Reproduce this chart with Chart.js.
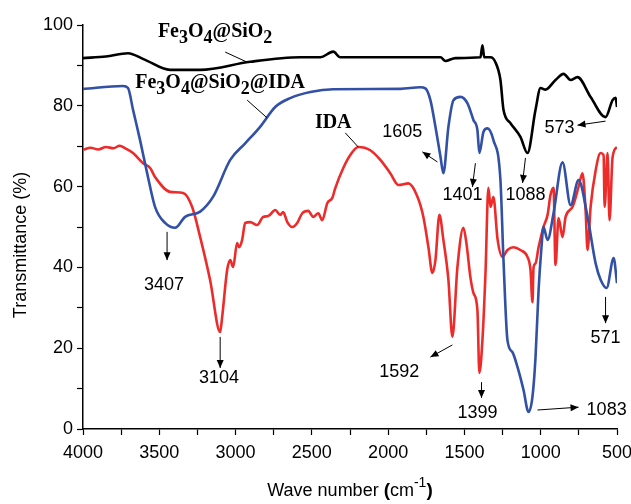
<!DOCTYPE html>
<html>
<head>
<meta charset="utf-8">
<script src="https://cdn.jsdelivr.net/npm/chart.js@4.4.1/dist/chart.umd.min.js"></script>
<style>
  html, body { margin: 0; padding: 0; background: #fff; }
  #wrap { width: 631px; height: 504px; position: relative; }
</style>
</head>
<body>
<div id="wrap"><canvas id="ftirChart"></canvas></div>
<script>
'use strict';

// wavenumbers (cm-1) and transmittance (%)
let silicaWave = [4000, 3850, 3705, 3600, 3429, 3232, 2904, 2576, 2445, 2360, 2314, 1920, 1657, 1625, 1559, 1395, 1382, 1370, 1329, 1297, 1264, 1244, 1198, 1133, 1087, 1034, 1001, 969, 903, 850, 804, 759, 673, 575, 529, 509, 500];
let silicaT = [91.8, 92.2, 93.0, 91.5, 88.9, 88.9, 90.9, 92.0, 92.0, 93.4, 92.0, 92.0, 92.0, 91.1, 91.8, 92.0, 95.0, 92.0, 92.0, 90.8, 86.4, 79.0, 75.7, 72.3, 68.3, 79.0, 84.4, 84.0, 86.4, 87.9, 86.4, 87.1, 82.2, 77.2, 81.4, 82.0, 79.7];

let idaSilicaWave = [4000, 3738, 3705, 3672, 3626, 3580, 3528, 3462, 3396, 3331, 3232, 3147, 3035, 2937, 2839, 2740, 2642, 2510, 2360, 1920, 1789, 1756, 1723, 1690, 1657, 1638, 1605, 1572, 1526, 1480, 1441, 1415, 1402, 1375, 1349, 1310, 1264, 1244, 1218, 1185, 1152, 1113, 1080, 1054, 1034, 1014, 995, 982, 955, 916, 857, 804, 752, 693, 640, 608, 568, 522, 500];
let idaSilicaT = [84.2, 84.9, 84.4, 79.0, 71.5, 63.4, 55.0, 51.0, 49.8, 52.5, 53.8, 57.5, 66.6, 70.7, 74.8, 79.7, 81.9, 83.4, 84.1, 84.2, 84.6, 84.3, 81.4, 74.8, 67.4, 63.3, 74.8, 81.4, 82.2, 80.6, 76.5, 74.0, 68.3, 73.6, 74.4, 71.5, 61.6, 41.8, 22.0, 19.0, 15.3, 9.7, 4.2, 8.0, 17.8, 34.4, 45.0, 50.0, 46.8, 53.4, 66.0, 55.4, 61.6, 52.5, 41.0, 37.0, 34.9, 42.3, 36.1];

let idaWave = [4000, 3950, 3900, 3850, 3800, 3760, 3720, 3672, 3606, 3560, 3528, 3429, 3344, 3285, 3232, 3167, 3101, 3088, 3055, 3035, 3016, 2990, 2976, 2957, 2937, 2904, 2858, 2819, 2786, 2740, 2707, 2688, 2661, 2629, 2596, 2563, 2524, 2491, 2458, 2432, 2399, 2366, 2346, 2294, 2248, 2196, 2117, 2051, 1986, 1933, 1867, 1808, 1769, 1736, 1710, 1690, 1664, 1638, 1605, 1579, 1546, 1507, 1487, 1461, 1441, 1415, 1402, 1382, 1362, 1343, 1329, 1310, 1283, 1251, 1218, 1178, 1133, 1087, 1067, 1054, 1047, 1034, 1014, 982, 955, 936, 916, 903, 883, 857, 837, 791, 752, 726, 706, 693, 673, 640, 608, 588, 581, 562, 549, 529, 500];
let idaT = [69.1, 69.6, 69.2, 69.8, 69.5, 70.1, 69.4, 68.3, 65.8, 64.6, 62.4, 58.7, 58.4, 55.0, 47.5, 36.9, 24.0, 27.7, 39.4, 41.8, 40.1, 46.0, 45.0, 46.8, 51.0, 51.2, 50.5, 52.5, 52.7, 54.2, 53.0, 53.7, 51.2, 50.0, 51.0, 53.4, 54.0, 52.5, 53.4, 51.7, 55.9, 57.2, 59.7, 64.6, 67.8, 69.8, 69.0, 66.6, 63.3, 60.4, 60.8, 57.5, 52.5, 45.0, 38.6, 41.8, 53.0, 46.8, 36.9, 22.8, 40.0, 49.8, 46.0, 37.6, 33.7, 29.5, 13.9, 22.0, 38.6, 59.7, 55.0, 57.4, 47.0, 42.6, 44.3, 45.0, 44.3, 42.6, 39.4, 31.4, 40.0, 41.0, 45.0, 50.0, 53.0, 57.9, 59.7, 40.6, 52.2, 47.5, 52.5, 55.0, 59.9, 63.3, 54.2, 44.3, 55.0, 64.0, 68.3, 67.8, 55.0, 68.3, 51.7, 67.3, 69.8];

let seriesNames = ['Fe3O4@SiO2', 'Fe3O4@SiO2@IDA', 'IDA'];
let seriesColors = ['#000000', '#3150a6', '#ee2b2b'];

let xTicks = [4000, 3500, 3000, 2500, 2000, 1500, 1000, 500];
let yTicks = [0, 20, 40, 60, 80, 100];

// peak labels: text, label position, arrow tail, arrow head (data units)
let peakLabels = [
  { text: '3407', at: [3469, 34.4], from: [3449, 48.8], to: [3449, 41.8] },
  { text: '3104', at: [3108, 11.4], from: [3101, 22.8], to: [3101, 15.1] },
  { text: '1605', at: [1907, 72.3], from: [1677, 66.1], to: [1776, 68.6] },
  { text: '1401', at: [1513, 56.7], from: [1428, 65.8], to: [1448, 59.9] },
  { text: '1088', at: [1100, 56.7], from: [1100, 67.1], to: [1119, 60.9] },
  { text: '573', at: [877, 73.3], from: [575, 76.2], to: [759, 75.2] },
  { text: '1592', at: [1927, 12.9], from: [1579, 20.8], to: [1723, 17.8] },
  { text: '1399', at: [1415, 2.7], from: [1388, 11.6], to: [1388, 7.7] },
  { text: '1083', at: [568, 3.5], from: [1021, 4.7], to: [752, 5.4] },
  { text: '571', at: [575, 21.3], from: [575, 32.7], to: [575, 26.2] }
];

// series name labels with leader lines
let nameLabels = [
  { parts: [['Fe', 0], ['3', 1], ['O', 0], ['4', 1], ['@SiO', 0], ['2', 1]], at: [3134, 97.0], from: [3068, 93.3], to: [2924, 90.8] },
  { parts: [['Fe', 0], ['3', 1], ['O', 0], ['4', 1], ['@SiO', 0], ['2', 1], ['@IDA', 0]], at: [3101, 84.4], from: [2924, 81.4], to: [2793, 77.0] },
  { parts: [['IDA', 0]], at: [2360, 74.5], from: [2281, 73.3], to: [2196, 69.8] }
];

function toPoints(xs, ys) {
  let pts = [];
  for (let i = 0; i < xs.length; i++) {
    pts.push({ x: xs[i], y: ys[i] });
  }
  return pts;
}

const sansFont = '"Liberation Sans", Arial, sans-serif';
const serifFont = '"Liberation Serif", "Times New Roman", serif';

function drawArrow(ctx, x0, y0, x1, y1, head) {
  ctx.beginPath();
  ctx.moveTo(x0, y0);
  ctx.lineTo(x1, y1);
  ctx.stroke();
  if (!head) return;
  let ang = Math.atan2(y1 - y0, x1 - x0);
  let len = 8, half = 3.5;
  ctx.beginPath();
  ctx.moveTo(x1, y1);
  ctx.lineTo(x1 - len * Math.cos(ang) + half * Math.sin(ang), y1 - len * Math.sin(ang) - half * Math.cos(ang));
  ctx.lineTo(x1 - len * Math.cos(ang) - half * Math.sin(ang), y1 - len * Math.sin(ang) + half * Math.cos(ang));
  ctx.closePath();
  ctx.fill();
}

const annotatePlugin = {
  id: 'annotate',
  afterDraw(chart) {
    const ctx = chart.ctx;
    const xs = chart.scales.x, ys = chart.scales.y;
    const px = v => xs.getPixelForValue(v);
    const py = v => ys.getPixelForValue(v);
    ctx.save();
    ctx.fillStyle = '#000';
    ctx.strokeStyle = '#000';
    ctx.lineWidth = 1;

    // peak labels
    ctx.font = '18px ' + sansFont;
    ctx.textAlign = 'center';
    ctx.textBaseline = 'alphabetic';
    peakLabels.forEach(p => {
      ctx.fillText(p.text, px(p.at[0]), py(p.at[1]));
      drawArrow(ctx, px(p.from[0]), py(p.from[1]), px(p.to[0]), py(p.to[1]), true);
    });

    // series names
    ctx.textAlign = 'left';
    nameLabels.forEach(n => {
      let w = 0;
      n.parts.forEach(part => {
        ctx.font = 'bold ' + (part[1] ? 18 : 20) + 'px ' + serifFont;
        w += ctx.measureText(part[0]).width;
      });
      let x = px(n.at[0]) - w / 2, y = py(n.at[1]);
      n.parts.forEach(part => {
        ctx.font = 'bold ' + (part[1] ? 18 : 20) + 'px ' + serifFont;
        ctx.fillText(part[0], x, part[1] ? y + 6 : y);
        x += ctx.measureText(part[0]).width;
      });
      drawArrow(ctx, px(n.from[0]), py(n.from[1]), px(n.to[0]), py(n.to[1]), false);
    });

    // axis titles
    const area = chart.chartArea;
    ctx.save();
    ctx.translate(20, (area.top + area.bottom) / 2 + 18);
    ctx.rotate(-Math.PI / 2);
    ctx.textAlign = 'center';
    ctx.font = '18px ' + sansFont;
    ctx.fillText('Transmittance (%)', 0, 6);
    ctx.restore();

    let xParts = [['Wave number ', '18px ', 0], ['(', 'bold 19px ', 0], ['cm', '18px ', 0], ['-1', '14px ', -9], [')', 'bold 19px ', 0]];
    let total = 0;
    xParts.forEach(p => { ctx.font = p[1] + sansFont; total += ctx.measureText(p[0]).width; });
    let tx = (area.left + area.right) / 2 - total / 2;
    let ty = 496;
    ctx.textAlign = 'left';
    xParts.forEach(p => {
      ctx.font = p[1] + sansFont;
      ctx.fillText(p[0], tx, ty + p[2]);
      tx += ctx.measureText(p[0]).width;
    });
    ctx.restore();
  }
};

const ctx = document.getElementById('ftirChart').getContext('2d');
let ftirChart = new Chart(ctx, {
  type: 'line',
  data: {
    datasets: [
      { label: seriesNames[0], data: toPoints(silicaWave, silicaT), borderColor: seriesColors[0] },
      { label: seriesNames[1], data: toPoints(idaSilicaWave, idaSilicaT), borderColor: seriesColors[1] },
      { label: seriesNames[2], data: toPoints(idaWave, idaT), borderColor: seriesColors[2] }
    ]
  },
  options: {
    responsive: true,
    maintainAspectRatio: false,
    animation: false,
    layout: { padding: { left: 0, right: 0, top: 25, bottom: 0 } },
    elements: {
      line: { borderWidth: 2.6, cubicInterpolationMode: 'monotone', fill: false },
      point: { radius: 0 }
    },
    plugins: {
      legend: { display: false },
      tooltip: { enabled: false }
    },
    scales: {
      x: {
        type: 'linear',
        reverse: true,
        min: 500,
        max: 4000,
        afterFit: scale => { scale.height = 75; scale.paddingRight = 14; },
        ticks: {
          stepSize: 250,
          autoSkip: false,
          maxRotation: 0,
          padding: 7,
          color: '#000',
          font: { family: sansFont, size: 18 },
          callback: v => xTicks.includes(v) ? String(v) : ''
        },
        grid: { drawOnChartArea: false, tickLength: 6, color: '#000', tickWidth: 1.2 },
        border: { display: true, color: '#000', width: 1.5 }
      },
      y: {
        min: 0,
        max: 100,
        afterFit: scale => { scale.width = 83; },
        ticks: {
          stepSize: 10,
          autoSkip: false,
          padding: 4,
          color: '#000',
          font: { family: sansFont, size: 18 },
          callback: v => yTicks.includes(v) ? String(v) : ''
        },
        grid: { drawOnChartArea: false, tickLength: 6, color: '#000', tickWidth: 1.2 },
        border: { display: true, color: '#000', width: 1.5 }
      }
    }
  },
  plugins: [annotatePlugin]
});
</script>
</body>
</html>
